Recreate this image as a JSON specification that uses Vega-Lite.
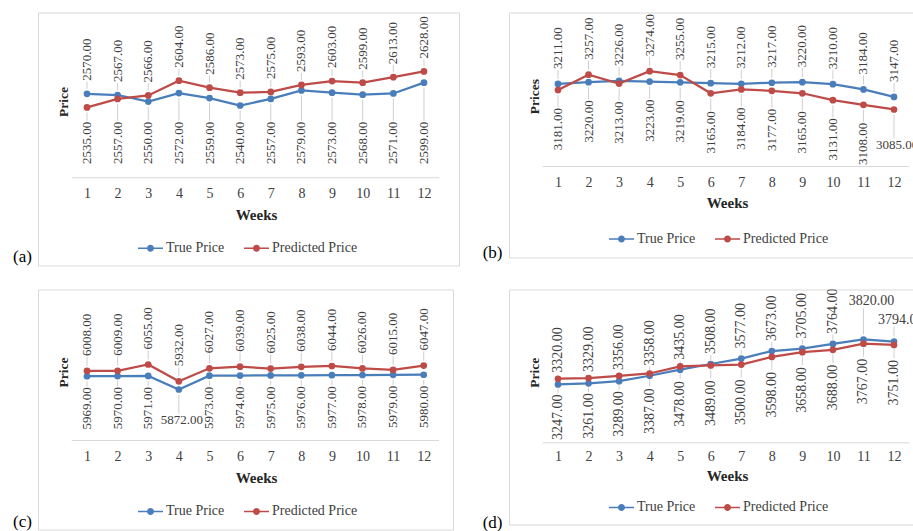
{
"$schema":"https://vega.github.io/schema/vega-lite/v6.json",
"background":"white",
"padding":{"left":12,"top":11.5,"right":0,"bottom":0},
"datasets":{
"a":[{"week":1,"series":"True Price","price":2570},{"week":2,"series":"True Price","price":2567},{"week":3,"series":"True Price","price":2550},{"week":4,"series":"True Price","price":2572},{"week":5,"series":"True Price","price":2559},{"week":6,"series":"True Price","price":2540},{"week":7,"series":"True Price","price":2557},{"week":8,"series":"True Price","price":2579},{"week":9,"series":"True Price","price":2573},{"week":10,"series":"True Price","price":2568},{"week":11,"series":"True Price","price":2571},{"week":12,"series":"True Price","price":2599},
{"week":1,"series":"Predicted Price","price":2535},{"week":2,"series":"Predicted Price","price":2557},{"week":3,"series":"Predicted Price","price":2566},{"week":4,"series":"Predicted Price","price":2604},{"week":5,"series":"Predicted Price","price":2586},{"week":6,"series":"Predicted Price","price":2573},{"week":7,"series":"Predicted Price","price":2575},{"week":8,"series":"Predicted Price","price":2593},{"week":9,"series":"Predicted Price","price":2603},{"week":10,"series":"Predicted Price","price":2599},{"week":11,"series":"Predicted Price","price":2613},{"week":12,"series":"Predicted Price","price":2628}],
"b":[{"week":1,"series":"True Price","price":3211},{"week":2,"series":"True Price","price":3220},{"week":3,"series":"True Price","price":3226},{"week":4,"series":"True Price","price":3223},{"week":5,"series":"True Price","price":3219},{"week":6,"series":"True Price","price":3215},{"week":7,"series":"True Price","price":3212},{"week":8,"series":"True Price","price":3217},{"week":9,"series":"True Price","price":3220},{"week":10,"series":"True Price","price":3210},{"week":11,"series":"True Price","price":3184},{"week":12,"series":"True Price","price":3147},
{"week":1,"series":"Predicted Price","price":3181},{"week":2,"series":"Predicted Price","price":3257},{"week":3,"series":"Predicted Price","price":3213},{"week":4,"series":"Predicted Price","price":3274},{"week":5,"series":"Predicted Price","price":3255},{"week":6,"series":"Predicted Price","price":3165},{"week":7,"series":"Predicted Price","price":3184},{"week":8,"series":"Predicted Price","price":3177},{"week":9,"series":"Predicted Price","price":3165},{"week":10,"series":"Predicted Price","price":3131},{"week":11,"series":"Predicted Price","price":3108},{"week":12,"series":"Predicted Price","price":3085}],
"c":[{"week":1,"series":"True Price","price":5969},{"week":2,"series":"True Price","price":5970},{"week":3,"series":"True Price","price":5971},{"week":4,"series":"True Price","price":5872},{"week":5,"series":"True Price","price":5973},{"week":6,"series":"True Price","price":5974},{"week":7,"series":"True Price","price":5975},{"week":8,"series":"True Price","price":5976},{"week":9,"series":"True Price","price":5977},{"week":10,"series":"True Price","price":5978},{"week":11,"series":"True Price","price":5979},{"week":12,"series":"True Price","price":5980},
{"week":1,"series":"Predicted Price","price":6008},{"week":2,"series":"Predicted Price","price":6009},{"week":3,"series":"Predicted Price","price":6055},{"week":4,"series":"Predicted Price","price":5932},{"week":5,"series":"Predicted Price","price":6027},{"week":6,"series":"Predicted Price","price":6039},{"week":7,"series":"Predicted Price","price":6025},{"week":8,"series":"Predicted Price","price":6038},{"week":9,"series":"Predicted Price","price":6044},{"week":10,"series":"Predicted Price","price":6026},{"week":11,"series":"Predicted Price","price":6015},{"week":12,"series":"Predicted Price","price":6047}],
"d":[{"week":1,"series":"True Price","price":3247},{"week":2,"series":"True Price","price":3261},{"week":3,"series":"True Price","price":3289},{"week":4,"series":"True Price","price":3358},{"week":5,"series":"True Price","price":3435},{"week":6,"series":"True Price","price":3508},{"week":7,"series":"True Price","price":3577},{"week":8,"series":"True Price","price":3673},{"week":9,"series":"True Price","price":3705},{"week":10,"series":"True Price","price":3764},{"week":11,"series":"True Price","price":3820},{"week":12,"series":"True Price","price":3794},
{"week":1,"series":"Predicted Price","price":3320},{"week":2,"series":"Predicted Price","price":3329},{"week":3,"series":"Predicted Price","price":3356},{"week":4,"series":"Predicted Price","price":3387},{"week":5,"series":"Predicted Price","price":3478},{"week":6,"series":"Predicted Price","price":3489},{"week":7,"series":"Predicted Price","price":3500},{"week":8,"series":"Predicted Price","price":3598},{"week":9,"series":"Predicted Price","price":3658},{"week":10,"series":"Predicted Price","price":3688},{"week":11,"series":"Predicted Price","price":3767},{"week":12,"series":"Predicted Price","price":3751}]
},
"columns":2,
"spacing":{"row":24,"column":50},
"bounds":"flush",
"resolve":{"scale":{"color":"independent","x":"independent","y":"independent"},"legend":{"color":"independent"}},
"concat":[
{
"width":421,"height":253,
"title":{"text":"(a)","orient":"bottom","anchor":"start","frame":"group","offset":0,"dx":-25,"dy":-9,"baseline":"middle","align":"left"},
"data":{"name":"a"},
"layer":[
 {"data":{"values":[{}]},"mark":{"type":"rule","color":"#d9d9d9","strokeWidth":1},"encoding":{
   "x":{"datum":0.5,"type":"quantitative","scale":{"domain":[-0.599,13.143],"nice":false,"zero":false},"axis":{"values":[1,2,3,4,5,6,7,8,9,10,11,12],"format":"d","offset":-88,"title":"Weeks","titleX":218,"titleY":36.5}},
   "x2":{"datum":12.5},
   "y":{"datum":2353.6,"type":"quantitative","scale":{"domain":[2127,2780],"nice":false,"zero":false},"axis":{"title":"Price","titleX":25,"titleY":89}}}},
 {"transform":[{"joinaggregate":[{"op":"max","field":"price","as":"mx"}],"groupby":["week"]},{"filter":"datum.price == datum.mx"}],"mark":{"type":"rule","color":"#bfbfbf","strokeWidth":0.75,"yOffset":-5,"y2Offset":-12},"encoding":{
   "x":{"field":"week","type":"quantitative","scale":{"domain":[-0.599,13.143],"nice":false,"zero":false},"axis":{"values":[1,2,3,4,5,6,7,8,9,10,11,12],"format":"d","offset":-88,"title":"Weeks","titleX":218,"titleY":36.5}},
   "y":{"field":"price","type":"quantitative","scale":{"domain":[2127,2780],"nice":false,"zero":false},"axis":{"title":"Price","titleX":25,"titleY":89}},
   "y2":{"field":"price"}}},
 {"transform":[{"joinaggregate":[{"op":"max","field":"price","as":"mx"}],"groupby":["week"]},{"filter":"datum.price < datum.mx"}],"mark":{"type":"rule","color":"#bfbfbf","strokeWidth":0.75,"yOffset":5,"y2Offset":-1},"encoding":{
   "x":{"field":"week","type":"quantitative","scale":{"domain":[-0.599,13.143],"nice":false,"zero":false},"axis":{"values":[1,2,3,4,5,6,7,8,9,10,11,12],"format":"d","offset":-88,"title":"Weeks","titleX":218,"titleY":36.5}},
   "y":{"field":"price","type":"quantitative","scale":{"domain":[2127,2780],"nice":false,"zero":false},"axis":{"title":"Price","titleX":25,"titleY":89}},
   "y2":{"datum":2498}}},
 {"mark":{"type":"line","strokeWidth":2.25},"encoding":{
   "x":{"field":"week","type":"quantitative","scale":{"domain":[-0.599,13.143],"nice":false,"zero":false},"axis":{"values":[1,2,3,4,5,6,7,8,9,10,11,12],"format":"d","offset":-88,"title":"Weeks","titleX":218,"titleY":36.5}},
   "y":{"field":"price","type":"quantitative","scale":{"domain":[2127,2780],"nice":false,"zero":false},"axis":{"title":"Price","titleX":25,"titleY":89}},
   "color":{"field":"series","type":"nominal","scale":{"domain":["True Price","Predicted Price"],"range":["#4A7EBB","#BE4B48"]},"legend":{"title":null,"legendX":100,"legendY":223}}}},
 {"mark":{"type":"point","filled":true,"size":45,"opacity":1},"encoding":{
   "x":{"field":"week","type":"quantitative","scale":{"domain":[-0.599,13.143],"nice":false,"zero":false},"axis":{"values":[1,2,3,4,5,6,7,8,9,10,11,12],"format":"d","offset":-88,"title":"Weeks","titleX":218,"titleY":36.5}},
   "y":{"field":"price","type":"quantitative","scale":{"domain":[2127,2780],"nice":false,"zero":false},"axis":{"title":"Price","titleX":25,"titleY":89}},
   "color":{"field":"series","type":"nominal","scale":{"domain":["True Price","Predicted Price"],"range":["#4A7EBB","#BE4B48"]},"legend":{"title":null,"legendX":100,"legendY":223}}}},
 {"transform":[{"joinaggregate":[{"op":"max","field":"price","as":"mx"}],"groupby":["week"]},{"filter":"datum.price == datum.mx"}],"mark":{"type":"text","angle":270,"align":"left","baseline":"middle","dx":13,"font":"Liberation Serif","fontSize":13,"color":"#404040"},"encoding":{
   "x":{"field":"week","type":"quantitative","scale":{"domain":[-0.599,13.143],"nice":false,"zero":false},"axis":{"values":[1,2,3,4,5,6,7,8,9,10,11,12],"format":"d","offset":-88,"title":"Weeks","titleX":218,"titleY":36.5}},
   "y":{"field":"price","type":"quantitative","scale":{"domain":[2127,2780],"nice":false,"zero":false},"axis":{"title":"Price","titleX":25,"titleY":89}},
   "text":{"field":"price","type":"quantitative","format":".2f"}}},
 {"transform":[{"joinaggregate":[{"op":"max","field":"price","as":"mx"}],"groupby":["week"]},{"filter":"datum.price < datum.mx"}],"mark":{"type":"text","angle":270,"align":"right","baseline":"middle","font":"Liberation Serif","fontSize":13,"color":"#404040"},"encoding":{
   "x":{"field":"week","type":"quantitative","scale":{"domain":[-0.599,13.143],"nice":false,"zero":false},"axis":{"values":[1,2,3,4,5,6,7,8,9,10,11,12],"format":"d","offset":-88,"title":"Weeks","titleX":218,"titleY":36.5}},
   "y":{"datum":2498,"type":"quantitative","scale":{"domain":[2127,2780],"nice":false,"zero":false},"axis":{"title":"Price","titleX":25,"titleY":89}},
   "text":{"field":"price","type":"quantitative","format":".2f"}}}
]
},
{
"width":404,"height":245,
"title":{"text":"(b)","orient":"bottom","anchor":"start","frame":"group","offset":0,"dx":-26.3,"dy":-4.5,"baseline":"middle","align":"left"},
"data":{"name":"b"},
"layer":[
 {"data":{"values":[{}]},"mark":{"type":"rule","color":"#d9d9d9","strokeWidth":1},"encoding":{
   "x":{"datum":0.5,"type":"quantitative","scale":{"domain":[-0.604,12.622],"nice":false,"zero":false},"axis":{"values":[1,2,3,4,5,6,7,8,9,10,11,12],"format":"d","offset":-91,"title":"Weeks","titleX":218,"titleY":36}},
   "x2":{"datum":12.5},
   "y":{"datum":2803.6,"type":"quantitative","scale":{"domain":[2354.4,3563.7],"nice":false,"zero":false},"axis":{"title":"Prices","titleX":25,"titleY":83.7}}}},
 {"transform":[{"joinaggregate":[{"op":"max","field":"price","as":"mx"}],"groupby":["week"]},{"filter":"datum.price == datum.mx"}],"mark":{"type":"rule","color":"#bfbfbf","strokeWidth":0.75,"yOffset":-5,"y2Offset":-14},"encoding":{
   "x":{"field":"week","type":"quantitative","scale":{"domain":[-0.604,12.622],"nice":false,"zero":false},"axis":{"values":[1,2,3,4,5,6,7,8,9,10,11,12],"format":"d","offset":-91,"title":"Weeks","titleX":218,"titleY":36}},
   "y":{"field":"price","type":"quantitative","scale":{"domain":[2354.4,3563.7],"nice":false,"zero":false},"axis":{"title":"Prices","titleX":25,"titleY":83.7}},
   "y2":{"field":"price"}}},
 {"transform":[{"joinaggregate":[{"op":"max","field":"price","as":"mx"}],"groupby":["week"]},{"filter":"datum.price < datum.mx && datum.week < 12"}],"mark":{"type":"rule","color":"#bfbfbf","strokeWidth":0.75,"yOffset":5,"y2Offset":17},"encoding":{
   "x":{"field":"week","type":"quantitative","scale":{"domain":[-0.604,12.622],"nice":false,"zero":false},"axis":{"values":[1,2,3,4,5,6,7,8,9,10,11,12],"format":"d","offset":-91,"title":"Weeks","titleX":218,"titleY":36}},
   "y":{"field":"price","type":"quantitative","scale":{"domain":[2354.4,3563.7],"nice":false,"zero":false},"axis":{"title":"Prices","titleX":25,"titleY":83.7}},
   "y2":{"field":"price"}}},
 {"transform":[{"joinaggregate":[{"op":"max","field":"price","as":"mx"}],"groupby":["week"]},{"filter":"datum.price < datum.mx && datum.week == 12"}],"mark":{"type":"rule","color":"#bfbfbf","strokeWidth":0.75,"yOffset":5,"y2Offset":29},"encoding":{
   "x":{"field":"week","type":"quantitative","scale":{"domain":[-0.604,12.622],"nice":false,"zero":false},"axis":{"values":[1,2,3,4,5,6,7,8,9,10,11,12],"format":"d","offset":-91,"title":"Weeks","titleX":218,"titleY":36}},
   "y":{"field":"price","type":"quantitative","scale":{"domain":[2354.4,3563.7],"nice":false,"zero":false},"axis":{"title":"Prices","titleX":25,"titleY":83.7}},
   "y2":{"field":"price"}}},
 {"mark":{"type":"line","strokeWidth":2.25},"encoding":{
   "x":{"field":"week","type":"quantitative","scale":{"domain":[-0.604,12.622],"nice":false,"zero":false},"axis":{"values":[1,2,3,4,5,6,7,8,9,10,11,12],"format":"d","offset":-91,"title":"Weeks","titleX":218,"titleY":36}},
   "y":{"field":"price","type":"quantitative","scale":{"domain":[2354.4,3563.7],"nice":false,"zero":false},"axis":{"title":"Prices","titleX":25,"titleY":83.7}},
   "color":{"field":"series","type":"nominal","scale":{"domain":["True Price","Predicted Price"],"range":["#4A7EBB","#BE4B48"]},"legend":{"title":null,"legendX":100,"legendY":213.8}}}},
 {"mark":{"type":"point","filled":true,"size":45,"opacity":1},"encoding":{
   "x":{"field":"week","type":"quantitative","scale":{"domain":[-0.604,12.622],"nice":false,"zero":false},"axis":{"values":[1,2,3,4,5,6,7,8,9,10,11,12],"format":"d","offset":-91,"title":"Weeks","titleX":218,"titleY":36}},
   "y":{"field":"price","type":"quantitative","scale":{"domain":[2354.4,3563.7],"nice":false,"zero":false},"axis":{"title":"Prices","titleX":25,"titleY":83.7}},
   "color":{"field":"series","type":"nominal","scale":{"domain":["True Price","Predicted Price"],"range":["#4A7EBB","#BE4B48"]},"legend":{"title":null,"legendX":100,"legendY":213.8}}}},
 {"transform":[{"joinaggregate":[{"op":"max","field":"price","as":"mx"}],"groupby":["week"]},{"filter":"datum.price == datum.mx"}],"mark":{"type":"text","angle":270,"align":"left","baseline":"middle","dx":15,"font":"Liberation Serif","fontSize":13,"color":"#404040","clip":true},"encoding":{
   "x":{"field":"week","type":"quantitative","scale":{"domain":[-0.604,12.622],"nice":false,"zero":false},"axis":{"values":[1,2,3,4,5,6,7,8,9,10,11,12],"format":"d","offset":-91,"title":"Weeks","titleX":218,"titleY":36}},
   "y":{"field":"price","type":"quantitative","scale":{"domain":[2354.4,3563.7],"nice":false,"zero":false},"axis":{"title":"Prices","titleX":25,"titleY":83.7}},
   "text":{"field":"price","type":"quantitative","format":".2f"}}},
 {"transform":[{"joinaggregate":[{"op":"max","field":"price","as":"mx"}],"groupby":["week"]},{"filter":"datum.price < datum.mx && datum.week < 12"}],"mark":{"type":"text","angle":270,"align":"right","baseline":"middle","dx":-18,"font":"Liberation Serif","fontSize":13,"color":"#404040","clip":true},"encoding":{
   "x":{"field":"week","type":"quantitative","scale":{"domain":[-0.604,12.622],"nice":false,"zero":false},"axis":{"values":[1,2,3,4,5,6,7,8,9,10,11,12],"format":"d","offset":-91,"title":"Weeks","titleX":218,"titleY":36}},
   "y":{"field":"price","type":"quantitative","scale":{"domain":[2354.4,3563.7],"nice":false,"zero":false},"axis":{"title":"Prices","titleX":25,"titleY":83.7}},
   "text":{"field":"price","type":"quantitative","format":".2f"}}},
 {"transform":[{"joinaggregate":[{"op":"max","field":"price","as":"mx"}],"groupby":["week"]},{"filter":"datum.price < datum.mx && datum.week == 12"}],"mark":{"type":"text","angle":0,"align":"left","baseline":"middle","dx":-18,"dy":36,"font":"Liberation Serif","fontSize":13,"color":"#404040","clip":true},"encoding":{
   "x":{"field":"week","type":"quantitative","scale":{"domain":[-0.604,12.622],"nice":false,"zero":false},"axis":{"values":[1,2,3,4,5,6,7,8,9,10,11,12],"format":"d","offset":-91,"title":"Weeks","titleX":218,"titleY":36}},
   "y":{"field":"price","type":"quantitative","scale":{"domain":[2354.4,3563.7],"nice":false,"zero":false},"axis":{"title":"Prices","titleX":25,"titleY":83.7}},
   "text":{"field":"price","type":"quantitative","format":".2f"}}}
]
},
{
"width":415,"height":240,
"title":{"text":"(c)","orient":"bottom","anchor":"start","frame":"group","offset":0,"dx":-25,"dy":-7.5,"baseline":"middle","align":"left"},
"data":{"name":"c"},
"layer":[
 {"data":{"values":[{}]},"mark":{"type":"rule","color":"#d9d9d9","strokeWidth":1},"encoding":{
   "x":{"datum":0.5,"type":"quantitative","scale":{"domain":[-0.601,12.957],"nice":false,"zero":false},"axis":{"values":[1,2,3,4,5,6,7,8,9,10,11,12],"format":"d","offset":-89,"title":"Weeks","titleX":218,"titleY":36.7}},
   "x2":{"datum":12.5},
   "y":{"datum":5498.6,"type":"quantitative","scale":{"domain":[4847,6604],"nice":false,"zero":false},"axis":{"title":"Price","titleX":25,"titleY":82.5}}}},
 {"transform":[{"joinaggregate":[{"op":"max","field":"price","as":"mx"}],"groupby":["week"]},{"filter":"datum.price == datum.mx"}],"mark":{"type":"rule","color":"#bfbfbf","strokeWidth":0.75,"yOffset":-5,"y2Offset":-14},"encoding":{
   "x":{"field":"week","type":"quantitative","scale":{"domain":[-0.601,12.957],"nice":false,"zero":false},"axis":{"values":[1,2,3,4,5,6,7,8,9,10,11,12],"format":"d","offset":-89,"title":"Weeks","titleX":218,"titleY":36.7}},
   "y":{"field":"price","type":"quantitative","scale":{"domain":[4847,6604],"nice":false,"zero":false},"axis":{"title":"Price","titleX":25,"titleY":82.5}},
   "y2":{"field":"price"}}},
 {"transform":[{"joinaggregate":[{"op":"max","field":"price","as":"mx"}],"groupby":["week"]},{"filter":"datum.price < datum.mx && datum.week != 4"}],"mark":{"type":"rule","color":"#bfbfbf","strokeWidth":0.75,"yOffset":5,"y2Offset":10},"encoding":{
   "x":{"field":"week","type":"quantitative","scale":{"domain":[-0.601,12.957],"nice":false,"zero":false},"axis":{"values":[1,2,3,4,5,6,7,8,9,10,11,12],"format":"d","offset":-89,"title":"Weeks","titleX":218,"titleY":36.7}},
   "y":{"field":"price","type":"quantitative","scale":{"domain":[4847,6604],"nice":false,"zero":false},"axis":{"title":"Price","titleX":25,"titleY":82.5}},
   "y2":{"field":"price"}}},
 {"transform":[{"joinaggregate":[{"op":"max","field":"price","as":"mx"}],"groupby":["week"]},{"filter":"datum.price < datum.mx && datum.week == 4"}],"mark":{"type":"rule","color":"#bfbfbf","strokeWidth":0.75,"yOffset":5,"y2Offset":24},"encoding":{
   "x":{"field":"week","type":"quantitative","scale":{"domain":[-0.601,12.957],"nice":false,"zero":false},"axis":{"values":[1,2,3,4,5,6,7,8,9,10,11,12],"format":"d","offset":-89,"title":"Weeks","titleX":218,"titleY":36.7}},
   "y":{"field":"price","type":"quantitative","scale":{"domain":[4847,6604],"nice":false,"zero":false},"axis":{"title":"Price","titleX":25,"titleY":82.5}},
   "y2":{"field":"price"}}},
 {"mark":{"type":"line","strokeWidth":2.25},"encoding":{
   "x":{"field":"week","type":"quantitative","scale":{"domain":[-0.601,12.957],"nice":false,"zero":false},"axis":{"values":[1,2,3,4,5,6,7,8,9,10,11,12],"format":"d","offset":-89,"title":"Weeks","titleX":218,"titleY":36.7}},
   "y":{"field":"price","type":"quantitative","scale":{"domain":[4847,6604],"nice":false,"zero":false},"axis":{"title":"Price","titleX":25,"titleY":82.5}},
   "color":{"field":"series","type":"nominal","scale":{"domain":["True Price","Predicted Price"],"range":["#4A7EBB","#BE4B48"]},"legend":{"title":null,"legendX":100,"legendY":209.2}}}},
 {"mark":{"type":"point","filled":true,"size":45,"opacity":1},"encoding":{
   "x":{"field":"week","type":"quantitative","scale":{"domain":[-0.601,12.957],"nice":false,"zero":false},"axis":{"values":[1,2,3,4,5,6,7,8,9,10,11,12],"format":"d","offset":-89,"title":"Weeks","titleX":218,"titleY":36.7}},
   "y":{"field":"price","type":"quantitative","scale":{"domain":[4847,6604],"nice":false,"zero":false},"axis":{"title":"Price","titleX":25,"titleY":82.5}},
   "color":{"field":"series","type":"nominal","scale":{"domain":["True Price","Predicted Price"],"range":["#4A7EBB","#BE4B48"]},"legend":{"title":null,"legendX":100,"legendY":209.2}}}},
 {"transform":[{"joinaggregate":[{"op":"max","field":"price","as":"mx"}],"groupby":["week"]},{"filter":"datum.price == datum.mx"}],"mark":{"type":"text","angle":270,"align":"left","baseline":"middle","dx":15,"font":"Liberation Serif","fontSize":13,"color":"#404040"},"encoding":{
   "x":{"field":"week","type":"quantitative","scale":{"domain":[-0.601,12.957],"nice":false,"zero":false},"axis":{"values":[1,2,3,4,5,6,7,8,9,10,11,12],"format":"d","offset":-89,"title":"Weeks","titleX":218,"titleY":36.7}},
   "y":{"field":"price","type":"quantitative","scale":{"domain":[4847,6604],"nice":false,"zero":false},"axis":{"title":"Price","titleX":25,"titleY":82.5}},
   "text":{"field":"price","type":"quantitative","format":".2f"}}},
 {"transform":[{"joinaggregate":[{"op":"max","field":"price","as":"mx"}],"groupby":["week"]},{"filter":"datum.price < datum.mx && datum.week != 4"}],"mark":{"type":"text","angle":270,"align":"right","baseline":"middle","dx":-11,"font":"Liberation Serif","fontSize":13,"color":"#404040"},"encoding":{
   "x":{"field":"week","type":"quantitative","scale":{"domain":[-0.601,12.957],"nice":false,"zero":false},"axis":{"values":[1,2,3,4,5,6,7,8,9,10,11,12],"format":"d","offset":-89,"title":"Weeks","titleX":218,"titleY":36.7}},
   "y":{"field":"price","type":"quantitative","scale":{"domain":[4847,6604],"nice":false,"zero":false},"axis":{"title":"Price","titleX":25,"titleY":82.5}},
   "text":{"field":"price","type":"quantitative","format":".2f"}}},
 {"transform":[{"joinaggregate":[{"op":"max","field":"price","as":"mx"}],"groupby":["week"]},{"filter":"datum.price < datum.mx && datum.week == 4"}],"mark":{"type":"text","angle":0,"align":"center","baseline":"middle","dx":3,"dy":31,"font":"Liberation Serif","fontSize":13,"color":"#404040"},"encoding":{
   "x":{"field":"week","type":"quantitative","scale":{"domain":[-0.601,12.957],"nice":false,"zero":false},"axis":{"values":[1,2,3,4,5,6,7,8,9,10,11,12],"format":"d","offset":-89,"title":"Weeks","titleX":218,"titleY":36.7}},
   "y":{"field":"price","type":"quantitative","scale":{"domain":[4847,6604],"nice":false,"zero":false},"axis":{"title":"Price","titleX":25,"titleY":82.5}},
   "text":{"field":"price","type":"quantitative","format":".2f"}}}
]
},
{
"width":404,"height":235,
"title":{"text":"(d)","orient":"bottom","anchor":"start","frame":"group","offset":0,"dx":-26.3,"dy":-2,"baseline":"middle","align":"left"},
"data":{"name":"d"},
"layer":[
 {"data":{"values":[{}]},"mark":{"type":"rule","color":"#d9d9d9","strokeWidth":1},"encoding":{
   "x":{"datum":0.5,"type":"quantitative","scale":{"domain":[-0.604,12.622],"nice":false,"zero":false},"axis":{"values":[1,2,3,4,5,6,7,8,9,10,11,12],"format":"d","offset":-82,"labelPadding":7,"title":"Weeks","titleX":218,"titleY":32.7}},
   "x2":{"datum":12.5},
   "y":{"datum":2504,"type":"quantitative","scale":{"domain":[1463,4457],"nice":false,"zero":false},"axis":{"title":"Price","titleX":25,"titleY":82.7}}}},
 {"transform":[{"filter":"((datum.series == 'Predicted Price') == (datum.week <= 3)) && datum.week >= 4 && datum.week <= 10"}],"mark":{"type":"rule","color":"#bfbfbf","strokeWidth":0.75,"yOffset":-4,"y2Offset":-9},"encoding":{
   "x":{"field":"week","type":"quantitative","scale":{"domain":[-0.604,12.622],"nice":false,"zero":false},"axis":{"values":[1,2,3,4,5,6,7,8,9,10,11,12],"format":"d","offset":-82,"labelPadding":7,"title":"Weeks","titleX":218,"titleY":32.7}},
   "y":{"field":"price","type":"quantitative","scale":{"domain":[1463,4457],"nice":false,"zero":false},"axis":{"title":"Price","titleX":25,"titleY":82.7}},
   "y2":{"field":"price"}}},
 {"transform":[{"filter":"((datum.series == 'Predicted Price') == (datum.week <= 3)) && datum.week == 11"}],"mark":{"type":"rule","color":"#bfbfbf","strokeWidth":0.75,"yOffset":-5,"y2Offset":-31},"encoding":{
   "x":{"field":"week","type":"quantitative","scale":{"domain":[-0.604,12.622],"nice":false,"zero":false},"axis":{"values":[1,2,3,4,5,6,7,8,9,10,11,12],"format":"d","offset":-82,"labelPadding":7,"title":"Weeks","titleX":218,"titleY":32.7}},
   "y":{"field":"price","type":"quantitative","scale":{"domain":[1463,4457],"nice":false,"zero":false},"axis":{"title":"Price","titleX":25,"titleY":82.7}},
   "y2":{"field":"price"}}},
 {"transform":[{"filter":"((datum.series == 'Predicted Price') == (datum.week <= 3)) && datum.week == 12"}],"mark":{"type":"rule","color":"#bfbfbf","strokeWidth":0.75,"yOffset":-5,"y2Offset":-15},"encoding":{
   "x":{"field":"week","type":"quantitative","scale":{"domain":[-0.604,12.622],"nice":false,"zero":false},"axis":{"values":[1,2,3,4,5,6,7,8,9,10,11,12],"format":"d","offset":-82,"labelPadding":7,"title":"Weeks","titleX":218,"titleY":32.7}},
   "y":{"field":"price","type":"quantitative","scale":{"domain":[1463,4457],"nice":false,"zero":false},"axis":{"title":"Price","titleX":25,"titleY":82.7}},
   "y2":{"field":"price"}}},
 {"transform":[{"filter":"((datum.series == 'Predicted Price') != (datum.week <= 3)) && datum.week >= 4"}],"mark":{"type":"rule","color":"#bfbfbf","strokeWidth":0.75,"yOffset":4,"y2Offset":13},"encoding":{
   "x":{"field":"week","type":"quantitative","scale":{"domain":[-0.604,12.622],"nice":false,"zero":false},"axis":{"values":[1,2,3,4,5,6,7,8,9,10,11,12],"format":"d","offset":-82,"labelPadding":7,"title":"Weeks","titleX":218,"titleY":32.7}},
   "y":{"field":"price","type":"quantitative","scale":{"domain":[1463,4457],"nice":false,"zero":false},"axis":{"title":"Price","titleX":25,"titleY":82.7}},
   "y2":{"field":"price"}}},
 {"transform":[{"filter":"((datum.series == 'Predicted Price') != (datum.week <= 3)) && datum.week <= 3"}],"mark":{"type":"rule","color":"#bfbfbf","strokeWidth":0.75,"yOffset":4,"y2Offset":9},"encoding":{
   "x":{"field":"week","type":"quantitative","scale":{"domain":[-0.604,12.622],"nice":false,"zero":false},"axis":{"values":[1,2,3,4,5,6,7,8,9,10,11,12],"format":"d","offset":-82,"labelPadding":7,"title":"Weeks","titleX":218,"titleY":32.7}},
   "y":{"field":"price","type":"quantitative","scale":{"domain":[1463,4457],"nice":false,"zero":false},"axis":{"title":"Price","titleX":25,"titleY":82.7}},
   "y2":{"field":"price"}}},
 {"mark":{"type":"line","strokeWidth":2.25},"encoding":{
   "x":{"field":"week","type":"quantitative","scale":{"domain":[-0.604,12.622],"nice":false,"zero":false},"axis":{"values":[1,2,3,4,5,6,7,8,9,10,11,12],"format":"d","offset":-82,"labelPadding":7,"title":"Weeks","titleX":218,"titleY":32.7}},
   "y":{"field":"price","type":"quantitative","scale":{"domain":[1463,4457],"nice":false,"zero":false},"axis":{"title":"Price","titleX":25,"titleY":82.7}},
   "color":{"field":"series","type":"nominal","scale":{"domain":["True Price","Predicted Price"],"range":["#4A7EBB","#BE4B48"]},"legend":{"title":null,"legendX":100,"legendY":205.2}}}},
 {"mark":{"type":"point","filled":true,"size":45,"opacity":1},"encoding":{
   "x":{"field":"week","type":"quantitative","scale":{"domain":[-0.604,12.622],"nice":false,"zero":false},"axis":{"values":[1,2,3,4,5,6,7,8,9,10,11,12],"format":"d","offset":-82,"labelPadding":7,"title":"Weeks","titleX":218,"titleY":32.7}},
   "y":{"field":"price","type":"quantitative","scale":{"domain":[1463,4457],"nice":false,"zero":false},"axis":{"title":"Price","titleX":25,"titleY":82.7}},
   "color":{"field":"series","type":"nominal","scale":{"domain":["True Price","Predicted Price"],"range":["#4A7EBB","#BE4B48"]},"legend":{"title":null,"legendX":100,"legendY":205.2}}}},
 {"transform":[{"filter":"((datum.series == 'Predicted Price') == (datum.week <= 3)) && datum.week <= 3"}],"mark":{"type":"text","angle":270,"align":"left","baseline":"middle","dx":6,"font":"Liberation Serif","fontSize":14,"color":"#404040","clip":true},"encoding":{
   "x":{"field":"week","type":"quantitative","scale":{"domain":[-0.604,12.622],"nice":false,"zero":false},"axis":{"values":[1,2,3,4,5,6,7,8,9,10,11,12],"format":"d","offset":-82,"labelPadding":7,"title":"Weeks","titleX":218,"titleY":32.7}},
   "y":{"field":"price","type":"quantitative","scale":{"domain":[1463,4457],"nice":false,"zero":false},"axis":{"title":"Price","titleX":25,"titleY":82.7}},
   "text":{"field":"price","type":"quantitative","format":".2f"}}},
 {"transform":[{"filter":"((datum.series == 'Predicted Price') == (datum.week <= 3)) && datum.week >= 4 && datum.week <= 10"}],"mark":{"type":"text","angle":270,"align":"left","baseline":"middle","dx":10,"font":"Liberation Serif","fontSize":14,"color":"#404040","clip":true},"encoding":{
   "x":{"field":"week","type":"quantitative","scale":{"domain":[-0.604,12.622],"nice":false,"zero":false},"axis":{"values":[1,2,3,4,5,6,7,8,9,10,11,12],"format":"d","offset":-82,"labelPadding":7,"title":"Weeks","titleX":218,"titleY":32.7}},
   "y":{"field":"price","type":"quantitative","scale":{"domain":[1463,4457],"nice":false,"zero":false},"axis":{"title":"Price","titleX":25,"titleY":82.7}},
   "text":{"field":"price","type":"quantitative","format":".2f"}}},
 {"transform":[{"filter":"((datum.series == 'Predicted Price') == (datum.week <= 3)) && datum.week == 11"}],"mark":{"type":"text","angle":0,"align":"center","baseline":"middle","dx":8,"dy":-38,"font":"Liberation Serif","fontSize":14,"color":"#404040","clip":true},"encoding":{
   "x":{"field":"week","type":"quantitative","scale":{"domain":[-0.604,12.622],"nice":false,"zero":false},"axis":{"values":[1,2,3,4,5,6,7,8,9,10,11,12],"format":"d","offset":-82,"labelPadding":7,"title":"Weeks","titleX":218,"titleY":32.7}},
   "y":{"field":"price","type":"quantitative","scale":{"domain":[1463,4457],"nice":false,"zero":false},"axis":{"title":"Price","titleX":25,"titleY":82.7}},
   "text":{"field":"price","type":"quantitative","format":".2f"}}},
 {"transform":[{"filter":"((datum.series == 'Predicted Price') == (datum.week <= 3)) && datum.week == 12"}],"mark":{"type":"text","angle":0,"align":"left","baseline":"middle","dx":-16,"dy":-22,"font":"Liberation Serif","fontSize":14,"color":"#404040","clip":true},"encoding":{
   "x":{"field":"week","type":"quantitative","scale":{"domain":[-0.604,12.622],"nice":false,"zero":false},"axis":{"values":[1,2,3,4,5,6,7,8,9,10,11,12],"format":"d","offset":-82,"labelPadding":7,"title":"Weeks","titleX":218,"titleY":32.7}},
   "y":{"field":"price","type":"quantitative","scale":{"domain":[1463,4457],"nice":false,"zero":false},"axis":{"title":"Price","titleX":25,"titleY":82.7}},
   "text":{"field":"price","type":"quantitative","format":".2f"}}},
 {"transform":[{"filter":"((datum.series == 'Predicted Price') != (datum.week <= 3)) && datum.week <= 3"}],"mark":{"type":"text","angle":270,"align":"right","baseline":"middle","dx":-10,"font":"Liberation Serif","fontSize":14,"color":"#404040","clip":true},"encoding":{
   "x":{"field":"week","type":"quantitative","scale":{"domain":[-0.604,12.622],"nice":false,"zero":false},"axis":{"values":[1,2,3,4,5,6,7,8,9,10,11,12],"format":"d","offset":-82,"labelPadding":7,"title":"Weeks","titleX":218,"titleY":32.7}},
   "y":{"field":"price","type":"quantitative","scale":{"domain":[1463,4457],"nice":false,"zero":false},"axis":{"title":"Price","titleX":25,"titleY":82.7}},
   "text":{"field":"price","type":"quantitative","format":".2f"}}},
 {"transform":[{"filter":"((datum.series == 'Predicted Price') != (datum.week <= 3)) && datum.week >= 4"}],"mark":{"type":"text","angle":270,"align":"right","baseline":"middle","dx":-15,"font":"Liberation Serif","fontSize":14,"color":"#404040","clip":true},"encoding":{
   "x":{"field":"week","type":"quantitative","scale":{"domain":[-0.604,12.622],"nice":false,"zero":false},"axis":{"values":[1,2,3,4,5,6,7,8,9,10,11,12],"format":"d","offset":-82,"labelPadding":7,"title":"Weeks","titleX":218,"titleY":32.7}},
   "y":{"field":"price","type":"quantitative","scale":{"domain":[1463,4457],"nice":false,"zero":false},"axis":{"title":"Price","titleX":25,"titleY":82.7}},
   "text":{"field":"price","type":"quantitative","format":".2f"}}}
]
}
],
"config":{
 "view":{"stroke":"#d9d9d9","strokeWidth":1},
 "font":"Liberation Serif",
 "axisX":{"domain":false,"ticks":false,"tickSize":0,"grid":false,"labelFont":"Liberation Serif","labelFontSize":14,"labelColor":"#404040","labelPadding":9,"labelAngle":0,"labelFlush":false,"labelOverlap":false,"titleFont":"Liberation Serif","titleFontSize":15,"titleFontWeight":"bold","titleColor":"#262626","titleBaseline":"middle","titleAlign":"center"},
 "axisY":{"domain":false,"ticks":false,"grid":false,"labels":false,"titleFont":"Liberation Serif","titleFontSize":13.5,"titleFontWeight":"bold","titleColor":"#262626","titleAngle":270,"titleBaseline":"middle","titleAlign":"center"},
 "legend":{"orient":"none","direction":"horizontal","symbolType":"M-1,-0.06H1V0.06H-1Z M0.28,0A0.28,0.28,0,1,1,-0.28,0A0.28,0.28,0,1,1,0.28,0Z","symbolSize":625,"symbolStrokeWidth":0,"symbolOpacity":1,"labelFont":"Liberation Serif","labelFontSize":14,"labelColor":"#404040","labelOffset":3,"columnPadding":19,"padding":0},
 "title":{"font":"Liberation Serif","fontSize":17,"fontWeight":"normal","color":"#000000"}
}
}
